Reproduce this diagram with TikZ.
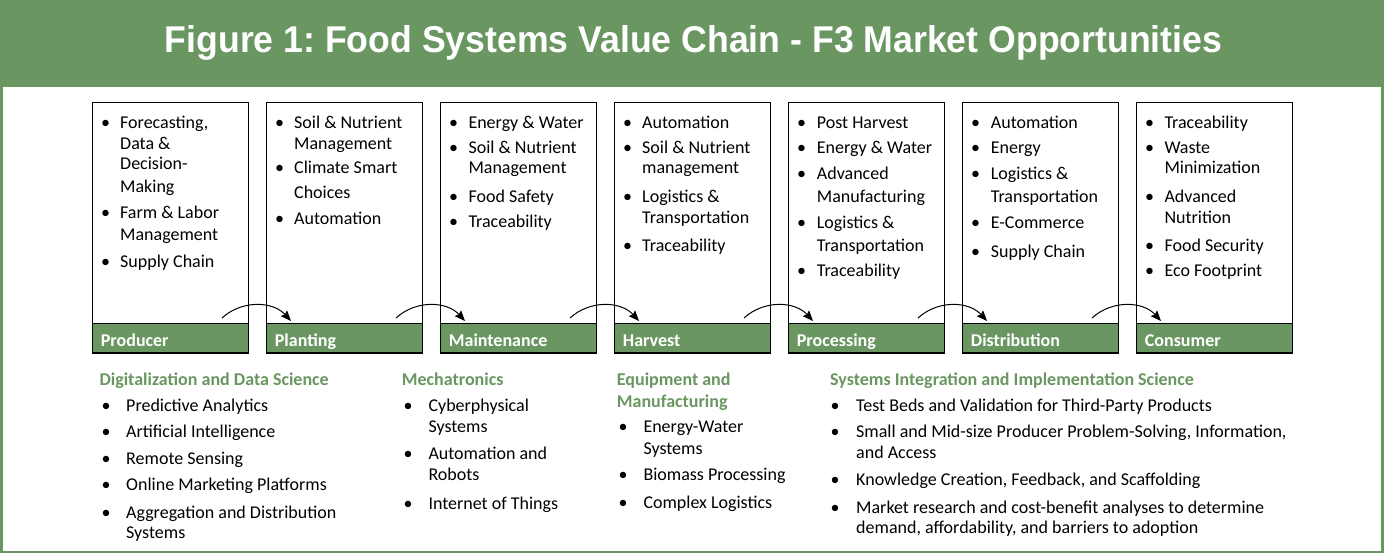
\documentclass[tikz,border=0pt]{standalone}
\usepackage{fontspec}
\usepackage{graphicx}
\setmainfont{Carlito}
\newfontfamily\titlefont{Liberation Sans}
\usetikzlibrary{arrows.meta}
\frenchspacing

\definecolor{fgreen}{RGB}{106,150,97}

\tikzset{
  txt/.style={anchor=base west, inner sep=0pt, font=\fontsize{18}{22}\selectfont},
  bul/.style={anchor=base, inner sep=0pt, font=\fontsize{18}{22}\selectfont},
  sect/.style={anchor=base west, inner sep=0pt, text=fgreen, font=\fontsize{18}{22}\selectfont\bfseries},
  stagebox/.style={draw=black, line width=1pt, minimum width=156pt, minimum height=251pt, inner sep=0pt, anchor=north west},
  band/.style={draw=black, line width=1pt, fill=fgreen, minimum width=156pt, minimum height=29pt, inner sep=0pt, anchor=south west},
  bandlabel/.style={anchor=base west, inner sep=0pt, text=white, font=\fontsize{18}{22}\selectfont\bfseries},
  flow/.style={-{Stealth[length=10.5pt,width=8.5pt,inset=1.5pt]}, line width=1pt},
}

% one column of bulleted lines: prefix, bullet x, text x, list of y/text/bullet-flag
\newcommand\bulletcolumn[4]{%
  \foreach \yy/\ltext/\bb [count=\k] in {#4}{%
    \node[txt] (#1-\k) at (#3,\yy+5.5) {\ltext};
    \ifnum\bb=1 \node[bul] (#1-b\k) at (#2,\yy+5.5) {\textbullet};\fi
  }%
}

\begin{document}
\begin{tikzpicture}[x=1pt,y=-1pt]
\useasboundingbox (0,0) rectangle (1384,553);

% frame and title band
\fill[fgreen] (0,0) rectangle (1384,553);
\fill[white] (3,87.5) rectangle (1381,551);
\node[anchor=base, inner sep=0pt, text=white] (title) at (693.5,53)
  {\resizebox{1057pt}{27pt}{\titlefont\bfseries Figure 1: Food Systems Value Chain - F3 Market Opportunities}};

% value chain stages
\foreach \name [count=\i] in {Producer,Planting,Maintenance,Harvest,Processing,Distribution,Consumer}{
  \node[stagebox] (box\i) at ({92+174*(\i-1)},102) {};
  \node[band] (band\i) at ({92+174*(\i-1)},353) {};
  \node[bandlabel] (lab\i) at ({92+174*(\i-1)+8.7},346) {\name};
}

% curved arrows between stages
\foreach \i in {1,...,6}{
  \coordinate (s\i) at ({92+174*(\i-1)+130},318);
  \coordinate (e\i) at ({92+174*\i+25},321);
  \draw[flow] (s\i) to[bend left=45] (e\i);
}

% stage contents
\bulletcolumn{prod}{105.5}{120}{122.7/{Forecasting,}/1, 144/{Data \&}/0, 164.5/{Decision-}/0, 187.3/{Making}/0, 213/{Farm \& Labor}/1, 235/{Management}/0, 261.7/{Supply Chain}/1}
\bulletcolumn{plant}{279.5}{294}{122.7/{Soil \& Nutrient}/1, 143.7/{Management}/0, 168.3/{Climate Smart}/1, 192.7/{Choices}/0, 219/{Automation}/1}
\bulletcolumn{maint}{453.5}{468.3}{122.7/{Energy \& Water}/1, 148.3/{Soil \& Nutrient}/1, 168.3/{Management}/0, 197.3/{Food Safety}/1, 221.7/{Traceability}/1}
\bulletcolumn{harv}{627.5}{642}{122.7/{Automation}/1, 148.3/{Soil \& Nutrient}/1, 168.3/{management}/0, 197.3/{Logistics \&}/1, 217.7/{Transportation}/0, 245.7/{Traceability}/1}
\bulletcolumn{proc}{801.7}{816.7}{122.7/{Post Harvest}/1, 148.3/{Energy \& Water}/1, 174.3/{Advanced}/1, 197.3/{Manufacturing}/0, 222.7/{Logistics \&}/1, 245.7/{Transportation}/0, 271/{Traceability}/1}
\bulletcolumn{dist}{975.5}{990.7}{122.7/{Automation}/1, 148.3/{Energy}/1, 174.3/{Logistics \&}/1, 197.3/{Transportation}/0, 222.7/{E-Commerce}/1, 251.7/{Supply Chain}/1}
\bulletcolumn{cons}{1149.5}{1164.3}{122.7/{Traceability}/1, 148.3/{Waste}/1, 168.3/{Minimization}/0, 197.3/{Advanced}/1, 217.7/{Nutrition}/0, 245.7/{Food Security}/1, 271/{Eco Footprint}/1}

% research areas
\node[sect] (sec1) at (99.3,385.5) {Digitalization and Data Science};
\bulletcolumn{dig}{106}{126}{405.7/{Predictive Analytics}/1, 431.7/{Artificial Intelligence}/1, 459.3/{Remote Sensing}/1, 485/{Online Marketing Platforms}/1, 512.7/{Aggregation and Distribution}/1, 533.3/{Systems}/0}

\node[sect] (sec2) at (401.7,385.5) {Mechatronics};
\bulletcolumn{mech}{408}{428.3}{405.7/{Cyberphysical}/1, 426.7/{Systems}/0, 454.3/{Automation and}/1, 475/{Robots}/0, 504/{Internet of Things}/1}

\node[sect] (sec3a) at (616.7,385.5) {Equipment and};
\node[sect] (sec3b) at (616.7,407.2) {Manufacturing};
\bulletcolumn{equip}{623}{643.3}{426.7/{Energy-Water}/1, 449/{Systems}/0, 475/{Biomass Processing}/1, 503.3/{Complex Logistics}/1}

\node[sect] (sec4) at (830,385.5) {Systems Integration and Implementation Science};
\bulletcolumn{sys}{835}{856}{405.7/{Test Beds and Validation for Third-Party Products}/1, 431.7/{Small and Mid-size Producer Problem-Solving, Information,}/1, 453.3/{and Access}/0, 480/{Knowledge Creation, Feedback, and Scaffolding}/1, 508.3/{Market research and cost-benefit analyses to determine}/1, 527.7/{demand, affordability, and barriers to adoption}/0}

\end{tikzpicture}
\end{document}
